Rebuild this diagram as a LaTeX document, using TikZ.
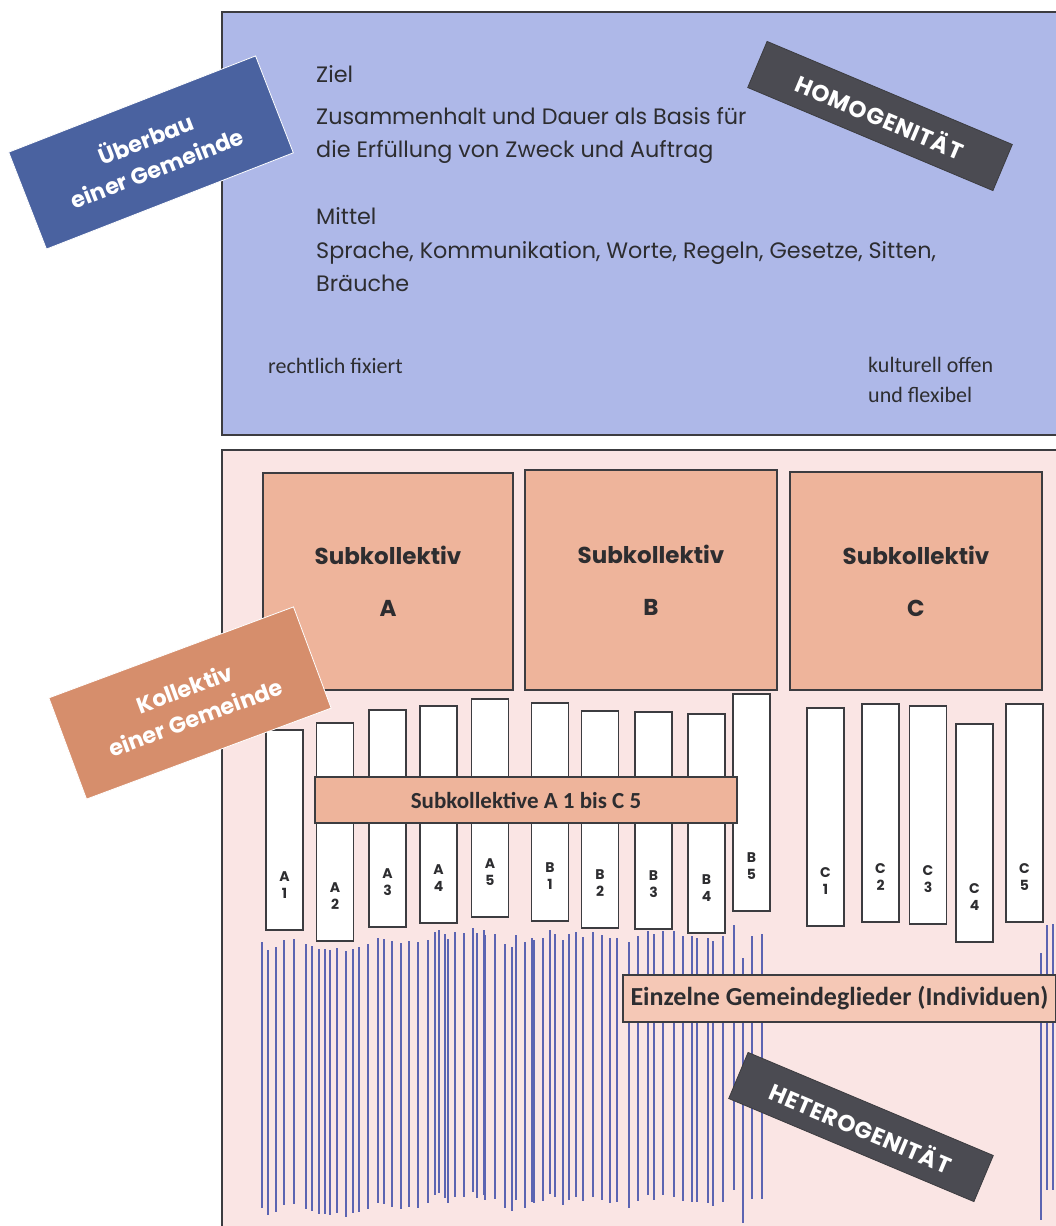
\documentclass[tikz,border=0pt]{standalone}
\usepackage{fontspec}
\setmainfont{Lato}
\newfontfamily\calib{Carlito}
\newfontfamily\popp{Poppins}
\definecolor{topblue}{RGB}{174,184,232}
\definecolor{ueberblue}{RGB}{74,98,160}
\definecolor{darktag}{RGB}{75,75,82}
\definecolor{pinkbg}{RGB}{250,229,228}
\definecolor{salmon}{RGB}{238,180,155}
\definecolor{kollorange}{RGB}{214,142,108}
\definecolor{einzel}{RGB}{245,200,182}
\definecolor{ink}{RGB}{45,45,48}
\definecolor{indiv}{RGB}{92,100,178}
\definecolor{frame}{RGB}{60,60,64}
\tikzset{
  panel/.style={draw=frame, line width=1.5pt},
  subbox/.style={draw=frame, line width=1.2pt, fill=salmon, inner sep=0pt,
    text=ink, align=center, font=\popp\bfseries\fontsize{23}{52}\selectfont},
  barbox/.style={draw=frame, line width=1.3pt, fill=white, inner sep=0pt, minimum width=37pt},
  barlab/.style={align=center, text=ink, inner sep=0pt, font=\popp\bfseries\fontsize{14}{17}\selectfont},
  stripe/.style={draw=frame, line width=1.2pt, inner sep=0pt, text=ink},
  tag/.style={inner sep=0pt, text=white, align=center, draw=white, line width=0.8pt},
  tagfont/.style={font=\popp\bfseries\fontsize{22.5}{31}\selectfont},
  capsfont/.style={font=\popp\bfseries\fontsize{23}{26}\selectfont\addfontfeatures{LetterSpace=3}},
  body/.style={anchor=base west, inner sep=0pt, text=ink, font=\popp\fontsize{22.3}{25}\selectfont},
  small/.style={anchor=base west, inner sep=0pt, text=ink, font=\calib\fontsize{22}{24}\selectfont},
  indline/.style={draw=indiv, line width=1.8pt}
}
\begin{document}
\begin{tikzpicture}[x=1pt,y=-1pt]
\useasboundingbox (0,0) rectangle (1056,1226);
\fill[white] (0,0) rectangle (1056,1226);
\clip (0,0) rectangle (1056,1226);
% panels
\draw[panel, fill=topblue] (222,12) rectangle (1070,435);
\draw[panel, fill=pinkbg] (222,450) rectangle (1070,1240);
% top texts
\node[body] (t1) at (316,82) {Ziel};
\node[body] (t2) at (316,124) {Zusammenhalt und Dauer als Basis für};
\node[body] (t3) at (316,157) {die Erfüllung von Zweck und Auftrag};
\node[body] (t4) at (316,224) {Mittel};
\node[body] (t5) at (316,258) {Sprache, Kommunikation, Worte, Regeln, Gesetze, Sitten,};
\node[body] (t6) at (316,291) {Bräuche};
\node[small] (r1) at (268,373) {rechtlich fixiert};
\node[small] (k1) at (868,372) {kulturell offen};
\node[small] (k2) at (868,402) {und flexibel};
% individual lines
\foreach \x/\t/\b in {262.3/942/1208, 268.3/950/1215, 275.7/947/1212, 283.7/940/1205, 294.3/939/1204,
  305.7/944/1209, 312.3/946/1211, 319.3/949/1214, 325/949/1214, 330.3/950/1215, 337/948/1213,
  345.7/951/1217, 353.3/949/1213, 359/947/1212, 367.7/944/1209, 378.3/938/1203, 384/939/1204,
  392.3/941/1207, 401/943/1209, 409/941/1207, 418.3/942/1208, 427.7/940/1203,
  435/932/1195, 439.3/930/1193, 445/934/1198, 448.3/939/1203, 455.3/932/1197, 464/933/1197,
  472.7/928/1192, 477.3/933/1198, 484/930/1195, 485.3/935/1200, 494.7/934/1199, 504.7/944/1208,
  512/947/1211, 516/935/1200, 524.7/942/1208, 532/938/1202, 533.7/940/1203, 542.7/938/1201,
  550/930/1194, 555.3/934/1197, 563.3/940/1205, 569.3/934/1200, 576/932/1197, 583.3/937/1201,
  592.7/932/1197, 601.7/935/1200,
  609.7/938/1203, 617/938/1202, 629/942/1208, 638.3/936/1201, 648.3/931/1195, 654.3/934/1200,
  663.3/931/1195, 674.3/931/1197, 683/936/1201, 691.7/936/1202, 697/938/1202, 707.7/938/1203,
  713/941/1206, 723.3/936/1202, 734.3/925/1190, 743.3/958/1223, 751.7/936/1199, 762.3/934/1199,
  1040.7/953/1220, 1047.3/925/1190, 1052.7/924/1190}
  \draw[indline] (\x,\t) -- (\x,\b);
% subcollective boxes
\node[subbox, minimum width=250pt, minimum height=217pt] (subA) at (388,581.5) {Subkollektiv\\A};
\node[subbox, minimum width=252pt, minimum height=220pt] (subB) at (651,580) {Subkollektiv\\B};
\node[subbox, minimum width=252pt, minimum height=218pt] (subC) at (916,581) {Subkollektiv\\C};
% bars
\foreach \l/\k/\xa/\xb/\t/\b in {A/1/265/304/730/930, A/2/317/353/723/941, A/3/369/406/710/927,
  A/4/420/457/706/923, A/5/472/508/699/917, B/1/532/568/703/921, B/2/582/618/711/928,
  B/3/635/672/712/929, B/4/688/725/714/933, B/5/733/770/694/911, C/1/807/844/708/926,
  C/2/862/899/704/922, C/3/909/947/706/924, C/4/956/993/724/942, C/5/1006/1043/704/922}{
  \pgfmathsetmacro{\cx}{(\xa+\xb)/2}
  \pgfmathsetmacro{\cy}{(\t+\b)/2}
  \pgfmathsetmacro{\hh}{\b-\t}
  \pgfmathsetmacro{\ly}{\b-45}
  \node[barbox, minimum height=\hh pt] (bar\l\k) at (\cx,\cy) {};
  \node[barlab] (lab\l\k) at (\cx,\ly) {\l\\\k};
}
% stripes
\node[stripe, fill=salmon, minimum width=422pt, minimum height=46pt,
  font=\calib\bfseries\fontsize{23}{26}\selectfont] (subAC) at (526,800) {Subkollektive A 1 bis C 5};
\node[stripe, fill=einzel, minimum width=433pt, minimum height=47pt,
  font=\calib\bfseries\fontsize{26}{28}\selectfont] (einz) at (839.5,998.5) {Einzelne Gemeindeglieder (Individuen)};
% tilted tags
\node[tag, tagfont, fill=ueberblue, rotate=21.3, minimum width=265pt, minimum height=104pt]
  (ueber) at (151,152.5) {Überbau\\einer Gemeinde};
\node[tag, tagfont, fill=kollorange, rotate=20.4, minimum width=261pt, minimum height=108pt]
  (koll) at (190,703) {Kollektiv\\einer Gemeinde};
\node[tag, capsfont, fill=darktag, draw=frame, rotate=-22.8, minimum width=266pt, minimum height=50pt]
  (homo) at (880,116) {HOMOGENITÄT};
\node[tag, capsfont, fill=darktag, draw=frame, rotate=-22.8, minimum width=266pt, minimum height=50pt]
  (hetero) at (861,1127) {HETEROGENITÄT};
\end{tikzpicture}
\end{document}
